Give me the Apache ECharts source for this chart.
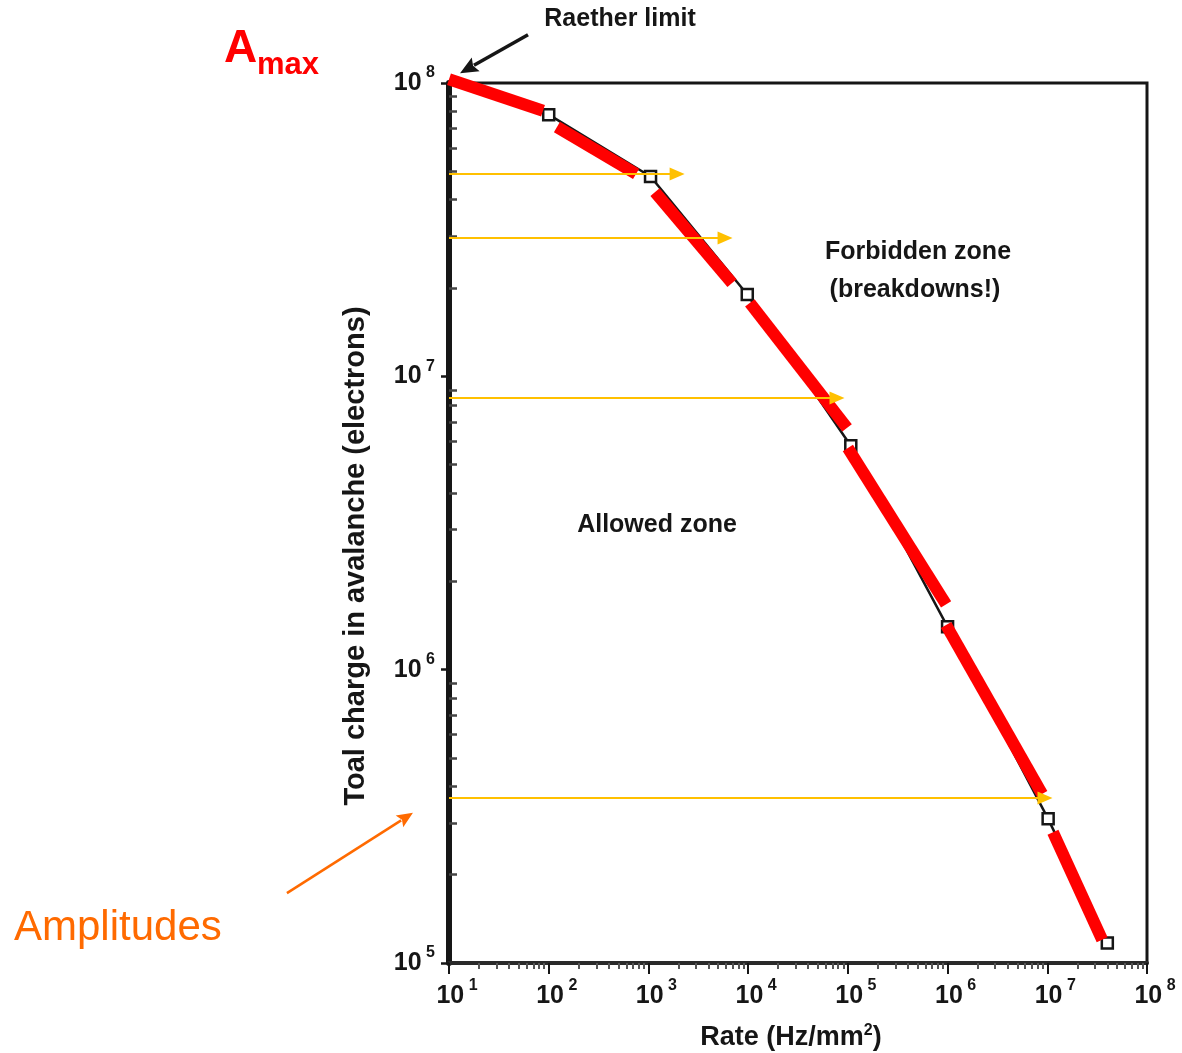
<!DOCTYPE html>
<html>
<head>
<meta charset="utf-8">
<title>Rate capability of PPAC</title>
<script src="https://cdn.jsdelivr.net/npm/echarts@6/dist/echarts.min.js"></script>
<style>
  html, body { margin: 0; padding: 0; background: #fff; }
  #chart { width: 1182px; height: 1053px; }
</style>
</head>
<body>
<div id="chart"></div>
<script>
// measured points: rate (Hz/mm2) vs total charge (electrons)
const rate   = [10, 100, 1.05e3, 9.8e3, 1.07e5, 1.0e6, 1.02e7, 4.0e7];
const charge = [1.0e8, 7.8e7, 4.8e7, 1.9e7, 5.8e6, 1.4e6, 3.1e5, 1.17e5];

// hand drawn red overlay, one stroke per row: [rate0, charge0, rate1, charge1]
const redStrokes = [
  [10,     1.03e8, 87.7,   8.04e7],
  [121,    7.08e7, 752,    4.9e7],
  [1164,   4.25e7, 6.89e3, 2.08e7],
  [1.04e4, 1.78e7, 9.82e4, 6.67e6],
  [1.0e5,  5.7e6,  9.66e5, 1.67e6],
  [9.66e5, 1.42e6, 8.87e6, 3.77e5],
  [1.14e7, 2.79e5, 3.55e7, 1.2e5]
];

// yellow amplitude arrows: charge level and where the arrow ends
const arrowLevel = [4.9e7, 2.96e7, 8.44e6, 3.65e5];
const arrowEnd   = [1.94e3, 5.87e3, 7.78e4, 9.48e6];

// annotation arrows [tail, tip], in data units
const raetherArrow = [[62, 1.46e8], [12.9, 1.08e8]];
const amplArrow    = [[0.237, 1.73e5], [4.35, 3.25e5]];

// axis range, in powers of ten
const xExp = [1, 8];
const yExp = [5, 8];

const font = 'Liberation Sans';
const ink = '#161616';

function minorValues(e0, e1) {
  const out = [];
  for (let e = e0; e < e1; e++) {
    for (let m = 2; m <= 9; m++) out.push(m * Math.pow(10, e));
  }
  return out;
}

function powLabel(v) {
  const e = Math.round(Math.log10(v));
  return '{b|10}{s| ' + e + '}';
}

const labelRich = {
  b: { fontFamily: font, fontWeight: 'bold', fontSize: 25, lineHeight: 36, color: ink },
  s: { fontFamily: font, fontWeight: 'bold', fontSize: 16, lineHeight: 16, verticalAlign: 'top', color: ink }
};
const xLabelRich = {
  b: Object.assign({}, labelRich.b, { padding: [0, 0, 0, 16] }),
  s: labelRich.s
};

const chart = echarts.init(document.getElementById('chart'), null, { renderer: 'canvas' });

const series = [];

// black curve with open squares
series.push({
  type: 'line',
  data: rate.map((r, i) => i === 0 ? { value: [r, charge[i]], symbol: 'none' } : [r, charge[i]]),
  symbol: 'rect',
  symbolSize: 11,
  lineStyle: { color: ink, width: 2.5 },
  itemStyle: { color: '#fff', borderColor: ink, borderWidth: 2.5 },
  z: 2,
  clip: false,
  silent: true
});

// red strokes on top
redStrokes.forEach(s => {
  series.push({
    type: 'line',
    data: [[s[0], s[1]], [s[2], s[3]]],
    symbol: 'none',
    lineStyle: { color: '#ff0000', width: 12, cap: 'butt' },
    z: 3,
    clip: false,
    silent: true
  });
});

// yellow arrows
series.push({
  type: 'line',
  data: [],
  clip: false,
  silent: true,
  markLine: {
    silent: true,
    animation: false,
    symbol: ['none', 'triangle'],
    symbolSize: [13, 15],
    label: { show: false },
    lineStyle: { color: '#ffc000', width: 2, type: 'solid' },
    data: arrowLevel.map((lv, i) => [{ coord: [10, lv] }, { coord: [arrowEnd[i], lv] }])
  },
  z: 4
});

const option = {
  animation: false,
  backgroundColor: '#fff',
  grid: {
    left: 449, top: 83, width: 698, height: 880,
    show: true, borderColor: ink, borderWidth: 3,
    containLabel: false, outerBoundsMode: 'none'
  },
  xAxis: [
    {
      type: 'log', logBase: 10,
      min: Math.pow(10, xExp[0]), max: Math.pow(10, xExp[1]), interval: 1,
      position: 'bottom',
      axisLine: { show: true, lineStyle: { color: '#2a2a2a', width: 4 } },
      axisTick: { show: true, inside: false, length: 11, lineStyle: { color: ink, width: 2 } },
      axisLabel: { margin: 15, formatter: powLabel, rich: xLabelRich, showMinLabel: true, showMaxLabel: true },
      splitLine: { show: false },
      minorTick: { show: false },
      name: 'Rate (Hz/mm{s|2})',
      nameLocation: 'middle',
      nameGap: 60,
      nameTextStyle: {
        fontFamily: font, fontWeight: 'bold', fontSize: 27, color: ink, lineHeight: 30,
        padding: [0, 14, 0, 0],
        rich: { s: { fontFamily: font, fontWeight: 'bold', fontSize: 16, lineHeight: 16, verticalAlign: 'top', color: ink } }
      }
    },
    {
      type: 'log', logBase: 10,
      min: Math.pow(10, xExp[0]), max: Math.pow(10, xExp[1]), interval: 1,
      position: 'bottom',
      axisLine: { show: false },
      axisTick: { show: true, inside: false, length: 6, customValues: minorValues(xExp[0], xExp[1]), lineStyle: { color: '#555', width: 2 } },
      axisLabel: { show: false },
      splitLine: { show: false }
    }
  ],
  yAxis: [
    {
      type: 'log', logBase: 10,
      min: Math.pow(10, yExp[0]), max: Math.pow(10, yExp[1]), interval: 1,
      position: 'left',
      axisLine: { show: true, lineStyle: { color: ink, width: 6 } },
      axisTick: { show: true, inside: false, length: 8, lineStyle: { color: ink, width: 2.5 } },
      axisLabel: { margin: 14, formatter: powLabel, rich: labelRich, showMinLabel: true, showMaxLabel: true },
      splitLine: { show: false },
      name: 'Toal charge in avalanche (electrons)',
      nameLocation: 'middle',
      nameGap: 79,
      nameRotate: 90,
      nameTextStyle: { fontFamily: font, fontWeight: 'bold', fontSize: 29, color: ink, padding: [0, 66, 0, 0] }
    },
    {
      type: 'log', logBase: 10,
      min: Math.pow(10, yExp[0]), max: Math.pow(10, yExp[1]), interval: 1,
      position: 'left',
      axisLine: { show: false },
      axisTick: { show: true, inside: true, length: 8, customValues: minorValues(yExp[0], yExp[1]), lineStyle: { color: '#444', width: 2.5 } },
      axisLabel: { show: false },
      splitLine: { show: false }
    }
  ],
  graphic: [
    { type: 'text', x: 620, y: 19, style: { text: 'Raether limit', font: 'bold 25px ' + font, fill: ink, textAlign: 'center', textVerticalAlign: 'middle' } },
    { type: 'text', x: 918, y: 252, style: { text: 'Forbidden zone', font: 'bold 25px ' + font, fill: ink, textAlign: 'center', textVerticalAlign: 'middle' } },
    { type: 'text', x: 915, y: 290, style: { text: '(breakdowns!)', font: 'bold 25px ' + font, fill: ink, textAlign: 'center', textVerticalAlign: 'middle' } },
    { type: 'text', x: 657, y: 525, style: { text: 'Allowed zone', font: 'bold 25px ' + font, fill: ink, textAlign: 'center', textVerticalAlign: 'middle' } },
    { type: 'text', x: 14, y: 928, style: { text: 'Amplitudes', font: '42px ' + font, fill: '#ff6a00', textAlign: 'left', textVerticalAlign: 'middle' } },
    { type: 'text', x: 224, y: 49, style: { text: 'A', font: 'bold 46px ' + font, fill: '#ff0000', textAlign: 'left', textVerticalAlign: 'middle' } },
    { type: 'text', x: 257, y: 65, style: { text: 'max', font: 'bold 31px ' + font, fill: '#ff0000', textAlign: 'left', textVerticalAlign: 'middle' } }
  ],
  series: series
};

chart.setOption(option);

// annotation arrows placed through the grid's own scales
function arrowGraphic(pair, color, width, len, half) {
  const p0 = chart.convertToPixel({ gridIndex: 0 }, pair[0]);
  const p1 = chart.convertToPixel({ gridIndex: 0 }, pair[1]);
  const dx = p1[0] - p0[0], dy = p1[1] - p0[1];
  const d = Math.sqrt(dx * dx + dy * dy);
  const ux = dx / d, uy = dy / d;
  const bx = p1[0] - ux * len, by = p1[1] - uy * len;
  return [
    { type: 'line', shape: { x1: p0[0], y1: p0[1], x2: bx + ux * 2, y2: by + uy * 2 }, style: { stroke: color, lineWidth: width }, silent: true, z: 10 },
    { type: 'polygon', shape: { points: [[p1[0], p1[1]], [bx - uy * half, by + ux * half], [bx + ux * 3, by + uy * 3], [bx + uy * half, by - ux * half]] }, style: { fill: color }, silent: true, z: 10 }
  ];
}

chart.setOption({
  graphic: option.graphic
    .concat(arrowGraphic(raetherArrow, ink, 3.5, 18, 8))
    .concat(arrowGraphic(amplArrow, '#ff6a00', 2.5, 16, 7))
});
</script>
</body>
</html>
